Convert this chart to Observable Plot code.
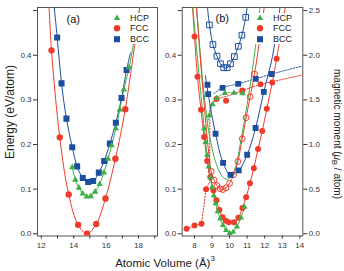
<!DOCTYPE html>
<html>
<head>
<meta charset="utf-8">
<script src="https://cdn.jsdelivr.net/npm/d3@7"></script>
<script src="https://cdn.jsdelivr.net/npm/@observablehq/plot@0.6"></script>
<style>
  body { margin: 0; background: #fff; }
  #fig { position: relative; width: 344px; height: 271px; overflow: hidden;
         font-family: Arial, "Liberation Sans", sans-serif; color: #222; }
  #fig svg.panel { position: absolute; top: 0; }
  .title { position: absolute; white-space: nowrap; font-size: 12px; line-height: 12px; color: #222; }
  .title sup { font-size: 8px; line-height: 0; vertical-align: baseline; position: relative; top: -0.75em; }
  .title sub { font-size: 7.5px; line-height: 0; vertical-align: baseline; position: relative; top: 0.3em; }
  .legend { position: absolute; background: #fff; font-size: 9px; padding-right: 3px; }
  .legend .row { height: 10.4px; line-height: 10.4px; display: flex; align-items: center; }
  .legend .row svg { flex: none; }
  .legend .row span { margin-left: 4px; }
</style>
</head>
<body>
<div id="fig"></div>
<script>
const GREEN = "#3fae49", RED = "#f03b2a", BLUE = "#1c4ea0";

// ---------- (a) energies vs atomic volume, [volume Å^3, energy eV/atom] ----------
const hcpA = [[13.91,0.149],[14.10,0.121],[14.32,0.103],[14.55,0.090],[14.80,0.083],[15.05,0.084],
              [15.32,0.094],[15.60,0.111],[15.86,0.137],[16.12,0.168],[16.34,0.198],[16.60,0.236],
              [16.84,0.278],[17.09,0.323],[17.42,0.373]];
const fccA = [[12.63,0.411],[13.14,0.216],[13.69,0.088],[14.27,0.020],[14.82,0.000],[15.39,0.022],
              [15.96,0.079],[16.57,0.168],[17.18,0.279]];
const bccA = [[12.98,0.440],[13.25,0.337],[13.55,0.258],[13.91,0.194],[14.21,0.151],[14.56,0.125],
              [14.89,0.116],[15.20,0.118],[15.55,0.137],[15.88,0.163],[16.23,0.202],[16.60,0.249],
              [16.95,0.304],[17.26,0.367]];
// where the fitted curves run on beyond the computed points
const hcpAEnds = [[], [[18.10,0.515]]];
const fccAEnds = [[[12.47,0.515]], [[18.10,0.515]]];
const bccAEnds = [[[12.78,0.515]], [[17.50,0.405]]];

// ---------- (b) energies ----------
const hcpB = [[8.55,0.236],[8.63,0.205],[8.72,0.176],[8.80,0.150],[8.90,0.126],[9.00,0.104],
              [9.10,0.085],[9.20,0.068],[9.32,0.050],[9.46,0.034],[9.62,0.019],[9.80,0.008],
              [10.00,0.001],[10.20,0.004],[10.42,0.016],[10.65,0.036],[10.85,0.060]];
const fccB = [[8.00,0.442],[8.17,0.352],[8.37,0.278],[8.55,0.217],[8.72,0.163],[8.90,0.127],
              [9.08,0.097],[9.25,0.075],[9.42,0.053],[9.60,0.037],[9.78,0.029],[9.95,0.026],
              [10.25,0.026],[10.50,0.036],[10.73,0.058],[10.94,0.082],[11.16,0.113],[11.38,0.147],
              [11.62,0.190],[11.86,0.230],[12.12,0.280],[12.43,0.339],[12.68,0.392]];
const fcc2B = [[8.95,0.140],[9.12,0.120],[9.28,0.108],[9.45,0.101],[9.62,0.099],[9.80,0.103],
               [10.00,0.113],[10.22,0.132],[10.47,0.162],[10.72,0.213],[10.94,0.260],[11.17,0.307],
               [11.42,0.358]];
const bccB = [[8.78,0.313],[9.20,0.224],[9.63,0.159],[10.05,0.132],[10.52,0.142],[11.00,0.177],
              [11.48,0.237],[11.95,0.318]];
const bcc2B = [[8.85,0.468],[9.05,0.424],[9.28,0.398],[9.48,0.381],[9.66,0.372],[9.86,0.372],
               [10.05,0.381],[10.27,0.397],[10.50,0.420],[10.70,0.445],[10.92,0.485]];
const hcp2BCurve = [[8.10,0.515],[8.50,0.330],[8.90,0.210],[9.30,0.150],[9.60,0.128],[9.90,0.122],
                    [10.20,0.135],[10.45,0.168],[10.64,0.209],[11.00,0.290],[11.40,0.396],[11.75,0.515]];
const hcpBEnds  = [[[7.88,0.515]], []];
const fccBEnds  = [[[7.88,0.515]], [[13.20,0.515]]];
const fcc2BEnds = [[[8.10,0.515]], [[12.00,0.515]]];
const bccBEnds  = [[[8.62,0.355]], [[12.44,0.397],[12.90,0.515]]];
const bcc2BEnds = [[[8.72,0.515]], [[11.02,0.515]]];

// ---------- (b) magnetic moments, [volume Å^3, moment μB/atom] ----------
const hcpMom = [[8.84,1.325],[9.03,1.448],[9.27,1.520],[9.73,1.575],[10.25,1.578],[10.73,1.572]];
const fccMom = [[7.55,0.056],[8.00,0.093],[8.40,0.112],[8.66,0.500],[9.25,1.510],[9.80,1.490],
                [10.72,1.605],[11.76,1.675]];
const bccMom = [[8.74,1.670],[9.60,1.635],[10.49,1.680],[11.49,1.736],[12.40,1.790]];
const hcpMomCurve = [[8.60,1.08],[8.84,1.325],[9.03,1.448],[9.27,1.52],[9.73,1.575],[10.25,1.578],[10.85,1.575]];
const fccMomCurve = [[7.55,0.056],[8.00,0.093],[8.40,0.112],[8.66,0.50],[8.86,0.58],[8.88,1.44],
                     [9.25,1.51],[10.00,1.55],[10.72,1.605],[11.76,1.675],[14.17,1.78]];
const bccMomCurve = [[9.10,1.57],[9.60,1.635],[10.49,1.68],[11.49,1.736],[12.40,1.79],[14.17,1.88]];

// ---------- axes and text ----------
const yDomain = [-0.005, 0.507];
const energyTicks = [0, 0.1, 0.2, 0.3, 0.4, 0.5];
const momentTicks = [0, 0.5, 1.0, 1.5, 2.0, 2.5];
const xTicksA = [12, 13, 14, 15, 16, 17, 18, 19];
const xTicksB = [8, 9, 10, 11, 12, 13, 14];
const panelTags = ["(a)", "(b)"];
const legendLabels = ["HCP", "FCC", "BCC"];
const energyTitle = "Energy (eV/atom)";
const volumeTitle = "Atomic Volume (Å)";

const MOM_PER_EV = 5; // 0.5 μB on the right axis sits level with 0.1 eV on the left
const X = d => d[0], Y = d => d[1], YM = d => d[1] / MOM_PER_EV;

const withEnds = (pts, ends) => [...ends[0], ...pts, ...ends[1]];
const fitLine = (data, color, y = Y, extra = {}) =>
  Plot.line(data, {x: X, y, stroke: color, strokeWidth: 1, curve: "catmull-rom", clip: true, ...extra});
const dots = (data, symbol, color, r, open = false, y = Y) =>
  Plot.dot(data, {x: X, y, symbol, r, clip: true,
                  fill: open ? "none" : color, stroke: open ? color : "none", strokeWidth: 1});

const baseStyle = {background: "transparent", overflow: "visible", color: "#333",
                   fontFamily: "Arial, 'Liberation Sans', sans-serif", fontSize: "8px"};
const energyAxis = () => Plot.axisY(energyTicks, {tickSize: 4, tickPadding: 2, label: null,
  tickFormat: d => d === 0.5 ? "" : d.toFixed(1)});

const fig = document.getElementById("fig");

// panel (a)
const svgA = Plot.plot({
  width: 165, height: 271,
  marginLeft: 37, marginRight: 8, marginTop: 7, marginBottom: 35.5,
  style: baseStyle,
  x: {domain: [11.766, 19.168]},
  y: {domain: yDomain},
  marks: [
    Plot.frame({stroke: "#555"}),
    energyAxis(),
    Plot.axisX(xTicksA, {tickSize: 3, tickPadding: 3, label: null,
      tickFormat: d => d % 2 === 0 ? String(d) : ""}),
    fitLine(withEnds(fccA, fccAEnds), RED),
    fitLine(withEnds(bccA, bccAEnds), BLUE),
    fitLine(withEnds(hcpA, hcpAEnds), GREEN),
    dots(fccA, "circle", RED, 3.2),
    dots(bccA, "square", BLUE, 3.4),
    dots(hcpA, "triangle", GREEN, 2.4),
    Plot.text([panelTags[0]], {frameAnchor: "top-left", textAnchor: "start", lineAnchor: "middle",
      dx: 29, dy: 11.5, fontSize: 11, fill: "#111"})
  ]
});
svgA.classList.add("panel");
svgA.style.left = "0px";
fig.appendChild(svgA);

// panel (b)
const svgB = Plot.plot({
  width: 194, height: 271,
  marginLeft: 31.7, marginRight: 41.7, marginTop: 7, marginBottom: 35.5,
  style: baseStyle,
  x: {domain: [7.299, 14.171]},
  y: {domain: yDomain},
  marks: [
    Plot.frame({stroke: "#555"}),
    energyAxis(),
    Plot.axisY(momentTicks.map(m => m / MOM_PER_EV), {anchor: "right", tickSize: 4, tickPadding: 2,
      label: null, tickFormat: d => (d * MOM_PER_EV).toFixed(1)}),
    Plot.axisX(xTicksB, {tickSize: 3, tickPadding: 3, label: null}),
    // moments (dotted)
    fitLine(hcpMomCurve, GREEN, YM, {strokeDasharray: "1.5,1.5"}),
    fitLine(fccMomCurve, RED, YM, {strokeDasharray: "1.5,1.5", curve: "linear"}),
    fitLine(bccMomCurve, BLUE, YM, {strokeDasharray: "1.5,1.5"}),
    // energies (solid)
    fitLine(withEnds(bcc2B, bcc2BEnds), BLUE),
    fitLine(withEnds(bccB, bccBEnds), BLUE),
    fitLine(hcp2BCurve, GREEN),
    fitLine(withEnds(fcc2B, fcc2BEnds), RED),
    fitLine(withEnds(fccB, fccBEnds), RED),
    fitLine(withEnds(hcpB, hcpBEnds), GREEN),
    dots(bcc2B, "square", BLUE, 3.2, true),
    dots(fcc2B, "circle", RED, 2.9, true),
    dots(bccB, "square", BLUE, 3.3),
    dots(fccB, "circle", RED, 3.0),
    dots(hcpB, "triangle", GREEN, 2.3),
    dots(bccMom, "square", BLUE, 3.3, false, YM),
    dots(fccMom, "circle", RED, 3.0, false, YM),
    dots(hcpMom, "triangle", GREEN, 2.3, false, YM),
    Plot.text([panelTags[1]], {frameAnchor: "top-left", textAnchor: "start", lineAnchor: "middle",
      dx: 33.3, dy: 11, fontSize: 11, fill: "#111"})
  ]
});
svgB.classList.add("panel");
svgB.style.left = "150px";
fig.appendChild(svgB);

// legends: white boxes that sit over the curve ends
const legendItems = [
  {label: legendLabels[0], symbol: d3.symbolTriangle, color: GREEN, r: 2.4},
  {label: legendLabels[1], symbol: d3.symbolCircle, color: RED, r: 3.2},
  {label: legendLabels[2], symbol: d3.symbolSquare, color: BLUE, r: 3.4}
];
function addLegend(left, top) {
  const ns = "http://www.w3.org/2000/svg";
  const box = document.createElement("div");
  box.className = "legend";
  box.style.left = left + "px";
  box.style.top = top + "px";
  for (const item of legendItems) {
    const row = document.createElement("div");
    row.className = "row";
    const s = document.createElementNS(ns, "svg");
    s.setAttribute("width", 14);
    s.setAttribute("height", 10.4);
    const p = document.createElementNS(ns, "path");
    p.setAttribute("d", d3.symbol(item.symbol, Math.PI * item.r * item.r)());
    p.setAttribute("transform", "translate(5,5.2)");
    p.setAttribute("fill", item.color);
    s.appendChild(p);
    const t = document.createElement("span");
    t.textContent = item.label;
    row.appendChild(s);
    row.appendChild(t);
    box.appendChild(row);
  }
  fig.appendChild(box);
}
addLegend(112, 13);
addLegend(255, 13);

// axis titles
function addTitle(html, css) {
  const d = document.createElement("div");
  d.className = "title";
  d.innerHTML = html;
  Object.assign(d.style, css);
  fig.appendChild(d);
}
addTitle(energyTitle, {left: "10px", top: "112px", transform: "translate(-50%,-50%) rotate(-90deg)"});
addTitle("magnetic moment (<i>μ</i><sub>B</sub> / atom)",
  {left: "337px", top: "134px", fontSize: "10px", lineHeight: "10px",
   transform: "translate(-50%,-50%) rotate(90deg)"});
addTitle(volumeTitle + "<sup>3</sup>",
  {left: "165px", top: "256.5px", fontSize: "11.5px", transform: "translate(-50%,0)"});
</script>
</body>
</html>
